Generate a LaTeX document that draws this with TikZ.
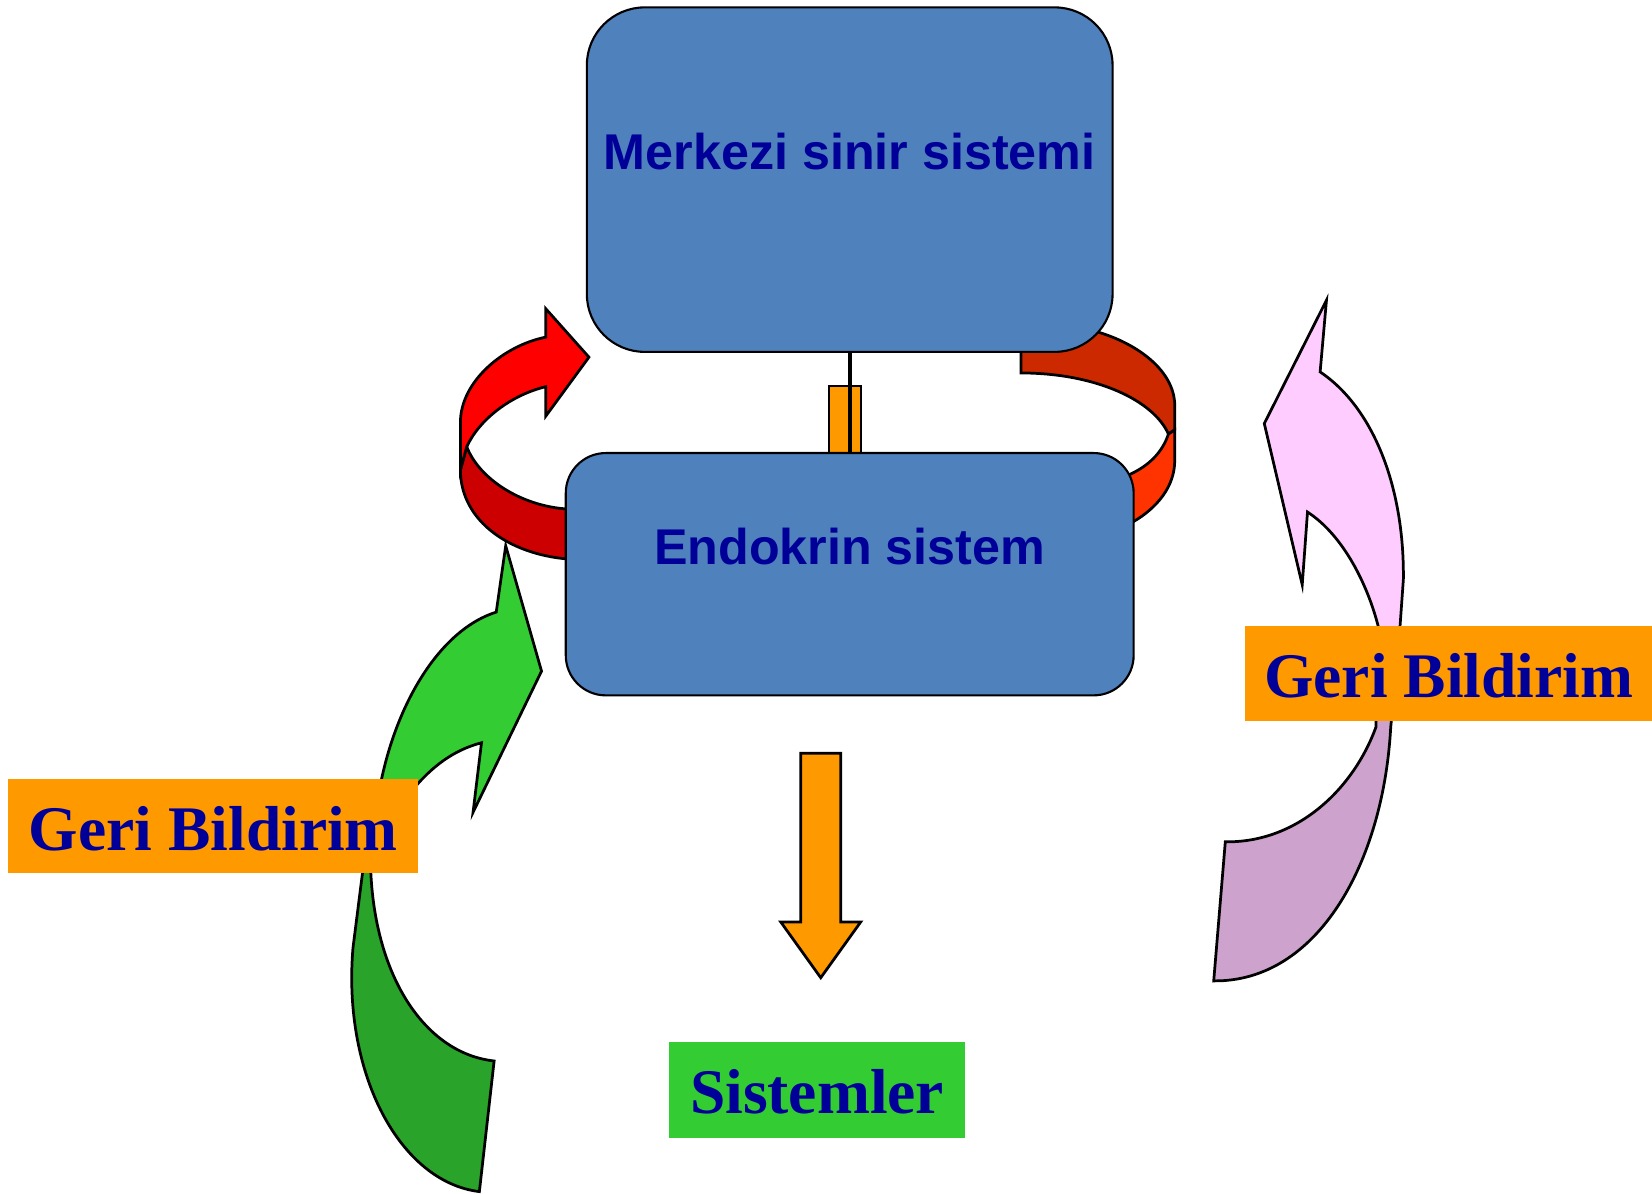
\documentclass[tikz,border=0pt]{standalone}
\usepackage{fontspec}
\setmainfont{Liberation Serif}
\setsansfont{Liberation Sans}
\definecolor{boxblue}{HTML}{4F81BD}
\definecolor{txtblue}{HTML}{000099}
\definecolor{orangeF}{HTML}{FF9900}
\definecolor{greenF}{HTML}{33CC33}
\definecolor{greenD}{HTML}{29A329}
\definecolor{redF}{HTML}{FF0000}
\definecolor{redD}{HTML}{CC0000}
\definecolor{rustD}{HTML}{CC2900}
\definecolor{rustF}{HTML}{FF3300}
\definecolor{pinkF}{HTML}{FFCCFF}
\definecolor{pinkD}{HTML}{CDA3CD}
\begin{document}
\begin{tikzpicture}[x=1pt,y=-1pt,line join=miter]
\tikzset{
 shp/.style={draw=black,line width=2.6pt},
 bigbox/.style={draw=black,line width=2pt,fill=boxblue,inner sep=0pt,outer sep=0pt},
 lbl/.style={inner sep=0pt,text=txtblue,font=\sffamily\bfseries\fontsize{47.7}{50}\selectfont,anchor=base},
 gb/.style={fill=orangeF,inner sep=0pt,outer sep=0pt,minimum width=389pt,minimum height=90pt},
 gbt/.style={inner sep=0pt,text=txtblue,font=\bfseries\fontsize{60.3}{62}\selectfont,anchor=base}
}
\useasboundingbox (0,0) rectangle (1568,1133);
% red ribbon (left)
\filldraw[shp,fill=redD] (437,446) .. controls (437,495) and (485,528) .. (545,531) -- (545,483) -- (537,483) .. controls (495,480) and (455,455) .. (443,424) -- cycle;
\filldraw[shp,fill=redF] (559,339) -- (518,293) -- (518,320) .. controls (478,328) and (437,362) .. (437,401) -- (437,446) -- (443,424) .. controls (455,398) and (485,375) .. (518,367) -- (518,395) -- cycle;
% rust ribbon (right)
\filldraw[shp,fill=rustD] (969,312) -- (969,354) .. controls (1040,354) and (1095,380) .. (1109,412) -- (1115,408) -- (1115,385) .. controls (1115,350) and (1075,322) .. (1030,312) -- cycle;
\filldraw[shp,fill=rustF] (1109,412) -- (1115,408) -- (1115,437) .. controls (1115,462) and (1098,482) .. (1076,495) -- (1060,495) -- (1060,455) -- (1073,450) .. controls (1090,442) and (1103,430) .. cycle;
% green arrow
\filldraw[shp,fill=greenF] (480,518) -- (514,637) -- (449,771) -- (457,705) .. controls (430,712) and (410,728) .. (393,748) -- (380,790) -- (355,790) .. controls (362,690) and (410,600) .. (471,581) -- cycle;
\filldraw[shp,fill=greenD] (343,815) -- (344,829) -- (335,900) .. controls (325,1020) and (380,1122) .. (455,1131) -- (469,1007) .. controls (405,1000) and (357,930) .. (352,829) -- (352,815) -- cycle;
% pink arrow
\filldraw[shp,fill=pinkF] (1259,285) -- (1253,353) .. controls (1305,388) and (1333,465) .. (1332,550) -- (1327,620) -- (1312,620) -- (1308,594) .. controls (1298,555) and (1275,508) .. (1241,486) -- (1236,555) -- (1200,402) -- cycle;
\filldraw[shp,fill=pinkD] (1322,670) -- (1320,690) .. controls (1313,820) and (1250,932) .. (1152,931) -- (1163,799) .. controls (1232,800) and (1285,748) .. (1306,690) -- (1306,670) -- cycle;
% small orange bar
\filldraw[shp,line width=2pt,fill=orangeF] (787,366) rectangle (817,430);
% boxes
\node[bigbox,rounded corners=55pt,minimum width=499pt,minimum height=327pt] (msb) at (806.5,170.5) {};
\node[lbl] (msbt) at (806.5,161) {Merkezi sinir sistemi};
\node[bigbox,rounded corners=38pt,minimum width=539pt,minimum height=230pt] (endo) at (806.5,545) {};
\node[lbl] (endot) at (806.5,536) {Endokrin sistem};
\draw[line width=3.5pt] (msb.south) -- (endo.north);
% down arrow
\filldraw[shp,fill=orangeF] (760,715) -- (798,715) -- (798,875) -- (817,875) -- (779,928) -- (741,875) -- (760,875) -- cycle;
% labels
\node[gb] (gbl) at (202.5,784) {};
\node[gbt] (gblt) at (202.5,807) {Geri Bildirim};
\node[gb,minimum width=386pt] (gbr) at (1375,639) {};
\node[gbt] (gbrt) at (1375,662) {Geri Bildirim};
\node[fill=greenF,inner sep=0pt,minimum width=281pt,minimum height=91pt] (sys) at (775.5,1034.5) {};
\node[gbt] (syst) at (775.5,1057) {Sistemler};
\end{tikzpicture}
\end{document}
